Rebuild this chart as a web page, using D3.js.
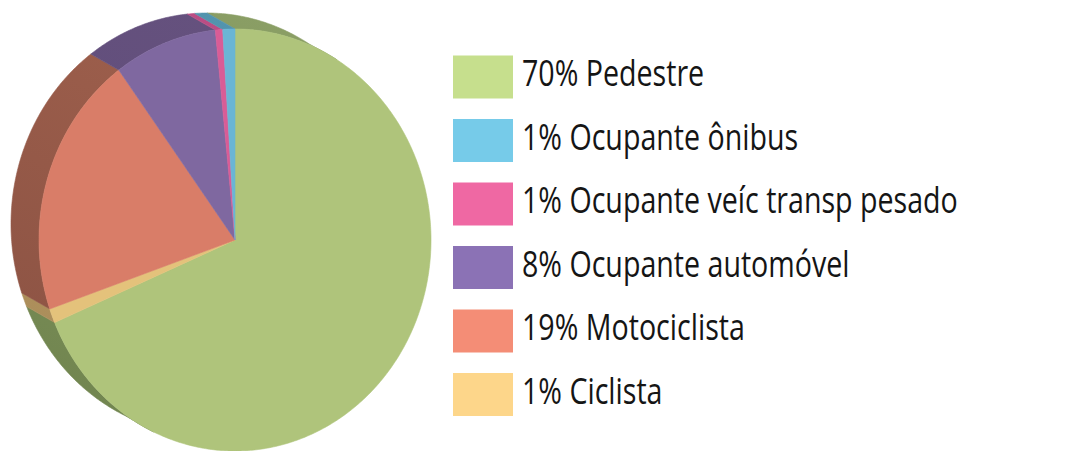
<!DOCTYPE html>
<html><head><meta charset="utf-8">
<script src="https://cdn.jsdelivr.net/npm/d3@7"></script>
<style>body{margin:0;background:#fff}svg{display:block}</style>
</head><body><svg id="c" width="1071" height="451"></svg>
<script>
// ---- data ----
const categories = ["Pedestre", "Ciclista", "Motociclista", "Ocupante automóvel", "Ocupante veíc transp pesado", "Ocupante ônibus"];
const values = [68.6, 1.1, 20.2, 8.5, 0.6, 1.0];
const faceColors = ["#afc47b", "#e4c27b", "#d97d68", "#7f68a0", "#d95c96", "#6ab5d5"];
const sideTopColors = ["#8ea268", "#c2a36a", "#a3634f", "#67537f", "#bf4f86", "#5396b0"];
const sideBottomColors = ["#6f834e", "#a88a58", "#8b5243", "#5c4978", "#a8437a", "#4b8aa2"];
const legendLabels = ["70% Pedestre", "1% Ocupante ônibus", "1% Ocupante veíc transp pesado", "8% Ocupante automóvel", "19% Motociclista", "1% Ciclista"];
const legendColors = ["#c6df8d", "#76cbe9", "#ef68a3", "#8b72b5", "#f48d76", "#fdd68a"];

// ---- layout ----
const svg = d3.select("#c");
const cx = 235, cy = 240, rx = 196, ry = 211;
const off = {dx: -28, dy: -16};
const sx = d3.scaleLinear().domain([-1, 1]).range([cx - rx, cx + rx]);
const sy = d3.scaleLinear().domain([-1, 1]).range([cy - ry, cy + ry]);
const pie = d3.pie().sort(null).value(d => d)(values);

function arcPts(a0, a1, dx, dy) {
  const n = Math.max(2, Math.ceil(Math.abs(a1 - a0) / 0.01));
  const pts = [];
  for (let i = 0; i <= n; i++) {
    const a = a0 + (a1 - a0) * i / n;
    pts.push([sx(Math.sin(a)) + dx, sy(-Math.cos(a)) + dy]);
  }
  return pts;
}
const line = d3.line().curve(d3.curveLinearClosed);

// visible side interval
const A = off.dx / rx, B = -off.dy / ry;
const psi = Math.atan2(B, A);
const eps = 0.06;
let vStart = -psi - eps; if (vStart < 0) vStart += 2 * Math.PI;
const vEnd = Math.PI - psi + eps + 2 * Math.PI; // unwrapped end

const defs = svg.append("defs");
pie.forEach((p, i) => {
  const g = defs.append("linearGradient").attr("id", "sg" + i)
    .attr("gradientUnits", "userSpaceOnUse")
    .attr("x1", cx + 120).attr("y1", 0).attr("x2", cx - 160).attr("y2", 440);
  g.append("stop").attr("offset", 0).attr("stop-color", sideTopColors[i]);
  g.append("stop").attr("offset", 1).attr("stop-color", sideBottomColors[i]);
});

const gSide = svg.append("g");
const gFace = svg.append("g");
pie.forEach((p, i) => {
  const ints = [
    [Math.max(p.startAngle, vStart), Math.min(p.endAngle, 2 * Math.PI)],
    [Math.max(p.startAngle, 0), Math.min(p.endAngle, vEnd - 2 * Math.PI)]
  ];
  ints.forEach(([s, e]) => {
    if (e - s <= 0) return;
    const front = arcPts(s, e, 0, 0);
    const back = arcPts(e, s, off.dx, off.dy);
    gSide.append("path").attr("d", line(front.concat(back)))
      .attr("fill", `url(#sg${i})`).attr("stroke", `url(#sg${i})`).attr("stroke-width", 0.6);
  });
});
pie.forEach((p, i) => {
  const pts = [[cx, cy]].concat(arcPts(p.startAngle, p.endAngle, 0, 0));
  gFace.append("path").attr("d", line(pts))
    .attr("fill", faceColors[i]).attr("stroke", faceColors[i]).attr("stroke-width", 0.6);
});

// ---- legend ----
const ly = d3.scaleBand().domain(legendLabels).range([55.5, 55.5 + 5 * 63.5 + 43]).paddingInner(1 - 43 / 63.5).paddingOuter(0);
const lg = svg.append("g");
lg.selectAll("rect").data(legendLabels).join("rect")
  .attr("x", 453).attr("y", d => ly(d)).attr("width", 60).attr("height", ly.bandwidth())
  .attr("fill", (d, i) => legendColors[i]);
const tg = lg.append("g");
const texts = tg.selectAll("text").data(legendLabels).join("text")
  .attr("x", 0).attr("y", d => ly(d) + ly.bandwidth() / 2 + 9.5)
  .attr("font-family", "'Open Sans', 'Noto Sans', sans-serif").attr("font-size", 36)
  .attr("fill", "#151515").text(d => d);
let maxW = 0;
texts.each(function() { maxW = Math.max(maxW, this.getComputedTextLength()); });
const k = 436 / maxW;
tg.attr("transform", `translate(522,0) scale(${k},1)`);
</script></body></html>
